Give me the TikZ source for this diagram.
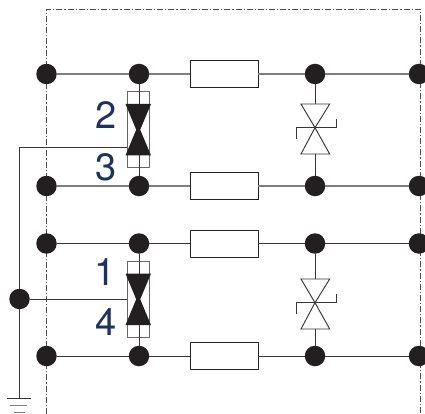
\documentclass[tikz,border=0pt]{standalone}
\usepackage{fontspec}
\setmainfont{TeX Gyre Heros}
\definecolor{navy}{HTML}{1C3260}
\definecolor{wiregray}{HTML}{7F7F7F}
\definecolor{dotblack}{HTML}{231F20}
\tikzset{
    dotn/.style={circle, fill=dotblack, inner sep=0pt, minimum size=20.5pt},
    resbox/.style={draw=dotblack, line width=0.9pt, fill=white, minimum width=68pt, minimum height=27pt, inner sep=0pt},
    clampbox/.style={draw=wiregray!80!black, line width=0.9pt, minimum width=21.5pt, minimum height=76pt, inner sep=0pt},
    num/.style={text=navy, font=\fontsize{38}{38}\selectfont, inner sep=0pt},
    wire/.style={line width=0.95pt, draw=dotblack!90},
    graywire/.style={line width=1.3pt, draw=wiregray},
    framed/.style={line width=0.8pt, draw=black!70, dash pattern=on 6pt off 2pt on 1.2pt off 2pt}
}
\begin{document}
\begin{tikzpicture}[x=1pt, y=-1pt, line join=miter]
    \useasboundingbox (0,0) rectangle (425,414);
    \draw[framed] (46.5,414)--(46.5,9.5)--(420.5,9.5)--(420.5,414);
    % dots and resistors of the four rows
    \foreach \n/\y in {a/74,b/186,c/243.5,d/356}{
        \node[dotn] (\n1) at (46.5,\y) {};
        \node[dotn] (\n2) at (139,\y) {};
        \node[resbox] (r\n) at (224,\y) {};
        \node[dotn] (\n3) at (315,\y) {};
        \node[dotn] (\n4) at (419,\y) {};
    }
    \foreach \n/\s in {a/graywire,b/graywire,c/wire,d/wire}{
        \draw[\s] (\n1)--(\n2);
        \draw[\s] (\n2)--(r\n);
        \draw[\s] (r\n)--(\n3);
        \draw[\s] (\n3)--(\n4);
    }
    % clamp diodes
    \node[clampbox] (cu) at (138.2,129.7) {};
    \node[clampbox] (cl) at (138.2,299.3) {};
    \draw[wire] (a2)--(b2);
    \draw[wire] (c2)--(d2);
    \foreach \y in {129.7,299.3}{
        \fill[dotblack] (125.5,\y-25.7)--(151,\y-25.7)--(140.2,\y)--(151,\y+25.7)--(125.5,\y+25.7)--(136.2,\y)--cycle;
    }
    % suppressor diodes
    \foreach \u/\v/\y in {a/b/127.7,c/d/302.7}{
        \coordinate (tc) at (315,\y);
        \draw[wire] (\u3)--(315,\y-23.7);
        \draw[wire] (\v3)--(315,\y+26.3);
        \draw[wire] (301,\y-23.7)--(329.7,\y-23.7)--(tc)--(301,\y+26.3)--(329.7,\y+26.3)--(tc)--cycle;
        \draw[wire] (296,\y+11)--(296,\y)--(336.7,\y)--(336.7,\y-9);
    }
    % earth side
    \node[dotn] (e1) at (19.5,299) {};
    \coordinate (e0) at (19.5,147.3);
    \coordinate (e2) at (19.5,398.7);
    \draw[wire] (cu.west|-e0)--(e0)--(e1);
    \draw[wire] (e1)--(e2);
    \draw[wire] (e1)--(e1-|cl.west);
    \draw[wire] (7.3,398.7)--(30.7,398.7);
    \draw[graywire, line width=1pt] (10.3,405.7)--(27,405.7);
    \draw[graywire, line width=1pt] (14,412.7)--(25,412.7);
    \node[num] (n2) at (105.7,115) {2};
    \node[num] (n3) at (105.7,167) {3};
    \node[num] (n1) at (105,271.7) {1};
    \node[num] (n4) at (105.7,321.7) {4};
\end{tikzpicture}
\end{document}
